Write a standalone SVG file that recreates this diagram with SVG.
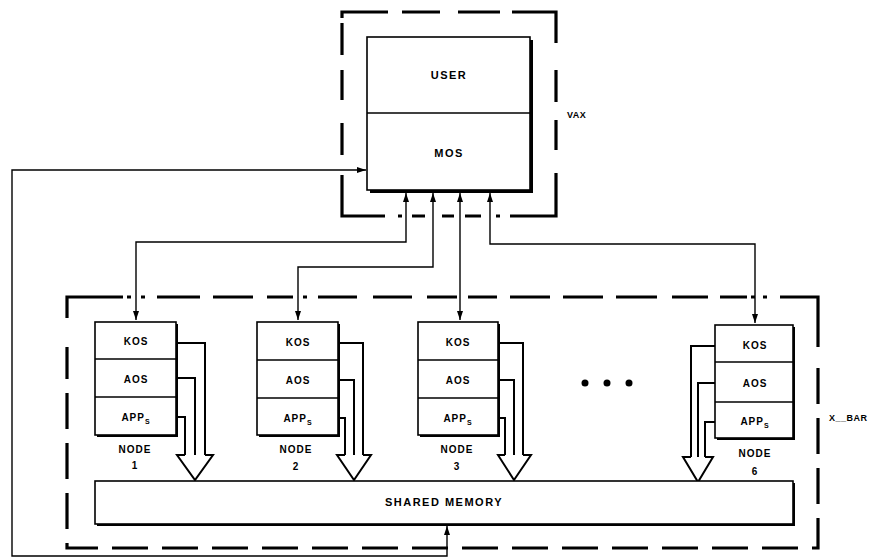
<svg xmlns="http://www.w3.org/2000/svg" width="877" height="558" viewBox="0 0 877 558">
<style>
.bg{fill:#fff}
.box{fill:#fff;stroke:#000;stroke-width:1.6}
.sh{fill:#000}
.div{stroke:#000;stroke-width:1.6}
.seg{fill:none;stroke:#000;stroke-width:3.2;stroke-linejoin:miter}
.dash{fill:none;stroke:#000;stroke-width:3.2;stroke-dasharray:36 14}
.conn{fill:none;stroke:#000;stroke-width:1.4}
.hol{fill:none;stroke:#000;stroke-width:2;stroke-linejoin:miter}
.head{fill:#fff;stroke:#000;stroke-width:2;stroke-linejoin:miter}
.t{font-family:"Liberation Sans",Arial,sans-serif;font-weight:bold;font-size:10px;letter-spacing:1px;text-anchor:middle;fill:#000}
.tb{font-family:"Liberation Sans",Arial,sans-serif;font-weight:bold;font-size:11px;letter-spacing:1.5px;text-anchor:middle;fill:#000}
.tl{font-family:"Liberation Sans",Arial,sans-serif;font-weight:bold;font-size:9px;letter-spacing:0.5px;fill:#000}
</style>
<defs>
<marker id="ah" markerWidth="9" markerHeight="6" refX="9" refY="3" orient="auto-start-reverse" markerUnits="userSpaceOnUse">
<path d="M0,0 L9,3 L0,6 z" fill="#000"/>
</marker>
</defs>
<rect class="bg" x="0" y="0" width="877" height="558"/>

<g id="vax-frame">
<path class="seg" d="M342,23 V55 M342,70 V100 M342,123 V155 M342,175 V216 H385 M398,216 H402 M412,216 H425 M442,216 H454 M465,216 H481 M496,216 H500 M510,216 H556 V173 M556,150 V120 M556,102 V70 M556,43 V12 H512 M500,12 H458 M440,12 H402 M388,12 H342 V18"/>
<text class="tl" x="567" y="118">VAX</text>
</g>

<g id="vax">
<rect class="sh" x="370" y="40" width="163" height="153"/>
<rect class="box" x="367" y="37" width="163" height="153"/>
<line class="div" x1="367" y1="113" x2="530" y2="113"/>
<text class="tb" x="449" y="79">USER</text>
<text class="tb" x="449" y="157">MOS</text>
</g>

<g id="xbar-frame">
<path class="seg" d="M67,318 V297 H123 M127,297 H131 M141,297 H145 M157,297 H200 M213,297 H253 M267,297 H293 M303,297 H307 M318,297 H357 M373,297 H412 M427,297 H457 M468,297 H497 M510,297 H550 M563,297 H603 M616,297 H657 M672,297 H708 M720,297 H747 M751,297 H755 M763,297 H767 M780,297 H818 V347"/>
<path class="dash" d="M818,368 V548 H67 V347"/>
<text class="tl" x="829" y="421">X__BAR</text>
</g>

<g id="connectors">
<path class="conn" d="M406,193 V242 H136 V320" marker-start="url(#ah)" marker-end="url(#ah)"/>
<path class="conn" d="M433,193 V267 H298 V320" marker-start="url(#ah)" marker-end="url(#ah)"/>
<path class="conn" d="M460,193 V320" marker-start="url(#ah)" marker-end="url(#ah)"/>
<path class="conn" d="M490,193 V244 H755 V323" marker-start="url(#ah)" marker-end="url(#ah)"/>
<path class="conn" d="M447,526 V556 H12 V170 H366" marker-start="url(#ah)" marker-end="url(#ah)"/>
</g>

<g id="node1">
<rect class="sh" x="97" y="324" width="81" height="113"/>
<rect class="box" x="95" y="322" width="81" height="113"/>
<line class="div" x1="95" y1="359" x2="176" y2="359"/>
<line class="div" x1="95" y1="397" x2="176" y2="397"/>
<text class="t" x="136" y="345">KOS</text>
<text class="t" x="136" y="383">AOS</text>
<text class="t" x="136" y="421">APP<tspan font-size="7" dy="3">S</tspan></text>
<text class="t" x="135" y="453">NODE</text>
<text class="t" x="135" y="469">1</text>
<path class="hol" d="M178,343 H205 V455 M178,378 H195 V478 M178,417 H185 V455"/>
<path class="head" d="M185,455 H177 L195,480 L213,455 H205"/>
</g>

<g id="node2">
<rect class="sh" x="259" y="324" width="81" height="113"/>
<rect class="box" x="257" y="322" width="81" height="113"/>
<line class="div" x1="257" y1="360" x2="338" y2="360"/>
<line class="div" x1="257" y1="398" x2="338" y2="398"/>
<text class="t" x="298" y="346">KOS</text>
<text class="t" x="298" y="384">AOS</text>
<text class="t" x="298" y="422">APP<tspan font-size="7" dy="3">S</tspan></text>
<text class="t" x="296" y="453">NODE</text>
<text class="t" x="296" y="470">2</text>
<path class="hol" d="M340,343 H363 V455 M340,380 H354 V478 M340,418 H345 V455"/>
<path class="head" d="M345,455 H337 L354,480 L371,455 H363"/>
</g>

<g id="node3">
<rect class="sh" x="420" y="324" width="80" height="113"/>
<rect class="box" x="418" y="322" width="80" height="113"/>
<line class="div" x1="418" y1="360" x2="498" y2="360"/>
<line class="div" x1="418" y1="398" x2="498" y2="398"/>
<text class="t" x="458" y="346">KOS</text>
<text class="t" x="458" y="384">AOS</text>
<text class="t" x="458" y="422">APP<tspan font-size="7" dy="3">S</tspan></text>
<text class="t" x="457" y="453">NODE</text>
<text class="t" x="457" y="470">3</text>
<path class="hol" d="M500,343 H523 V455 M500,380 H514 V478 M500,418 H505 V455"/>
<path class="head" d="M505,455 H498 L514,480 L531,455 H523"/>
</g>

<g id="ellipsis">
<circle cx="585" cy="383" r="3.5" fill="#000"/>
<circle cx="607" cy="383" r="3.5" fill="#000"/>
<circle cx="629" cy="383" r="3.5" fill="#000"/>
</g>

<g id="node6">
<rect class="sh" x="717" y="327" width="78" height="113"/>
<rect class="box" x="715" y="325" width="78" height="113"/>
<line class="div" x1="715" y1="362" x2="793" y2="362"/>
<line class="div" x1="715" y1="402" x2="793" y2="402"/>
<text class="t" x="755" y="349">KOS</text>
<text class="t" x="755" y="387">AOS</text>
<text class="t" x="755" y="425">APP<tspan font-size="7" dy="3">S</tspan></text>
<text class="t" x="755" y="457">NODE</text>
<text class="t" x="755" y="475">6</text>
<path class="hol" d="M715,346 H691 V457 M715,383 H698 V480 M715,422 H705 V457"/>
<path class="head" d="M691,457 H683 L698,482 L713,457 H705"/>
</g>

<g id="shared-memory">
<rect class="sh" x="97" y="483" width="698" height="43"/>
<rect class="box" x="95" y="481" width="698" height="43"/>
<text class="tb" x="444" y="506">SHARED MEMORY</text>
</g>
</svg>
